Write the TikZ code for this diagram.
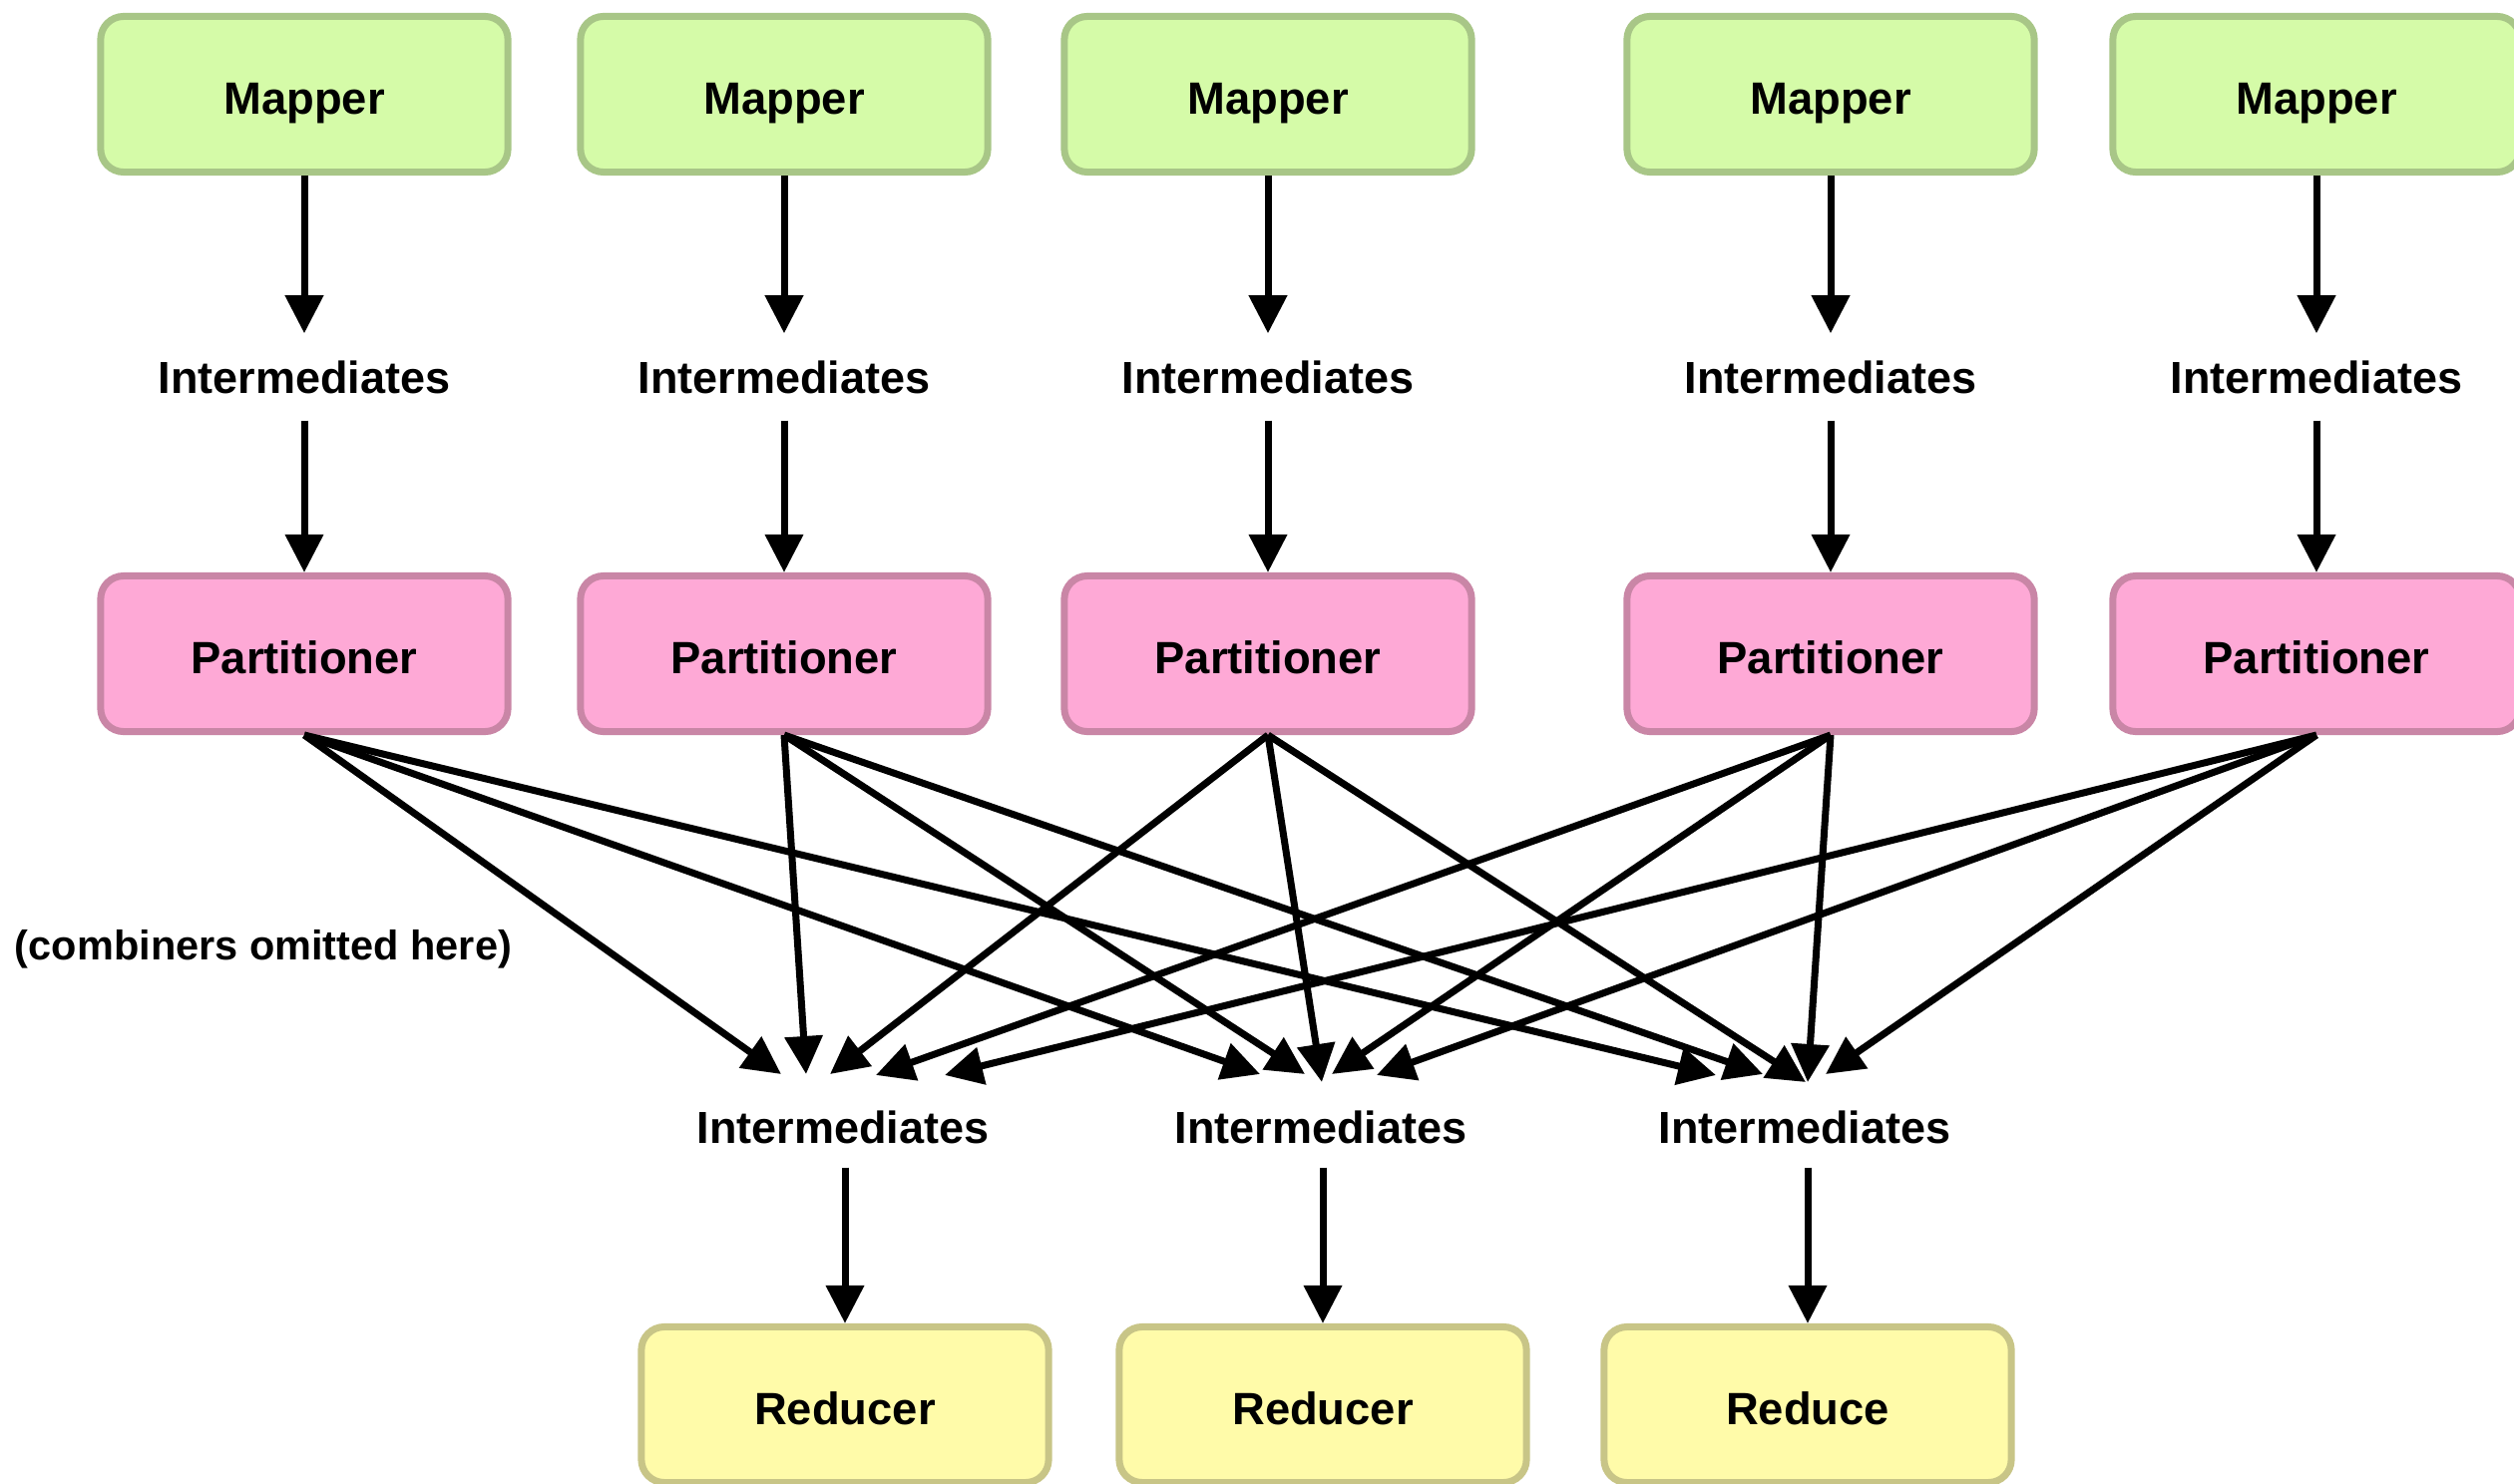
\documentclass[tikz,border=0pt]{standalone}
\usepackage{fontspec}
\setmainfont{Liberation Sans}
\usetikzlibrary{arrows.meta,calc}
\definecolor{mapfill}{HTML}{D5FBA8}
\definecolor{mapline}{HTML}{A8C687}
\definecolor{partfill}{HTML}{FEA9D6}
\definecolor{partline}{HTML}{C986A6}
\definecolor{redfill}{HTML}{FFFBA9}
\definecolor{redline}{HTML}{C8C587}
\begin{document}
\begin{tikzpicture}[x=0.01cm,y=-0.01cm,
  box/.style={draw, line width=0.07cm, rounded corners=0.23cm, minimum width=4.08cm,
    minimum height=1.56cm, inner sep=0pt, text height=0.39cm, text depth=0pt,
    font=\fontsize{12.9pt}{15pt}\selectfont\bfseries},
  mapper/.style={box, fill=mapfill, draw=mapline},
  part/.style={box, fill=partfill, draw=partline},
  reducer/.style={box, fill=redfill, draw=redline},
  lbl/.style={inner sep=0pt, minimum height=0.86cm, font=\fontsize{12.8pt}{15pt}\selectfont\bfseries},
  blbl/.style={inner sep=0pt, minimum height=0.80cm, font=\fontsize{12.8pt}{15pt}\selectfont\bfseries},
  note/.style={inner sep=0pt, font=\fontsize{11.8pt}{14pt}\selectfont\bfseries},
  arr/.style={line width=0.07cm, -{Triangle[length=0.38cm,width=0.37cm]}}]
\useasboundingbox (0,0) rectangle (2520,1488);
\foreach \i/\x in {1/305,2/786,3/1271,4/1835,5/2322} {
  \node[mapper] (m\i) at (\x,94.5) {Mapper};
  \node[lbl] (t\i) at (\x,378) {Intermediates};
  \node[part] (p\i) at (\x,655.5) {Partitioner};
  \draw[arr] (m\i.south) -- (t\i.north);
  \draw[arr] (t\i.south) -- (p\i.north);
}
\node[blbl] (b1) at (845,1130) {Intermediates};
\node[blbl] (b2) at (1324,1130) {Intermediates};
\node[blbl] (b3) at (1809,1130) {Intermediates};
\node[reducer] (r1) at (847,1408.5) {Reducer};
\node[reducer] (r2) at (1326,1408.5) {Reducer};
\node[reducer] (r3) at (1812,1408.5) {Reduce};
\foreach \i in {1,2,3} {
  \draw[arr] (b\i.south -| r\i.north) -- (r\i.north);
}
\node[note] (note) at (264,952) {(combiners omitted here)};
\foreach \p/\dx/\dy in {1/-62/-53, 2/-37/-53, 3/-13/-53, 4/33/-52, 5/102/-52}
  \draw[arr] (p\p.south) -- ($(b1)+(\dx,\dy)$);
\foreach \p/\dx/\dy in {1/-61/-53, 2/-16/-53, 3/1/-45, 4/11/-53, 5/56/-52}
  \draw[arr] (p\p.south) -- ($(b2)+(\dx,\dy)$);
\foreach \p/\dx/\dy in {1/-89/-52, 2/-42/-53, 3/1/-45, 4/3/-45, 5/21/-53}
  \draw[arr] (p\p.south) -- ($(b3)+(\dx,\dy)$);
\end{tikzpicture}
\end{document}
